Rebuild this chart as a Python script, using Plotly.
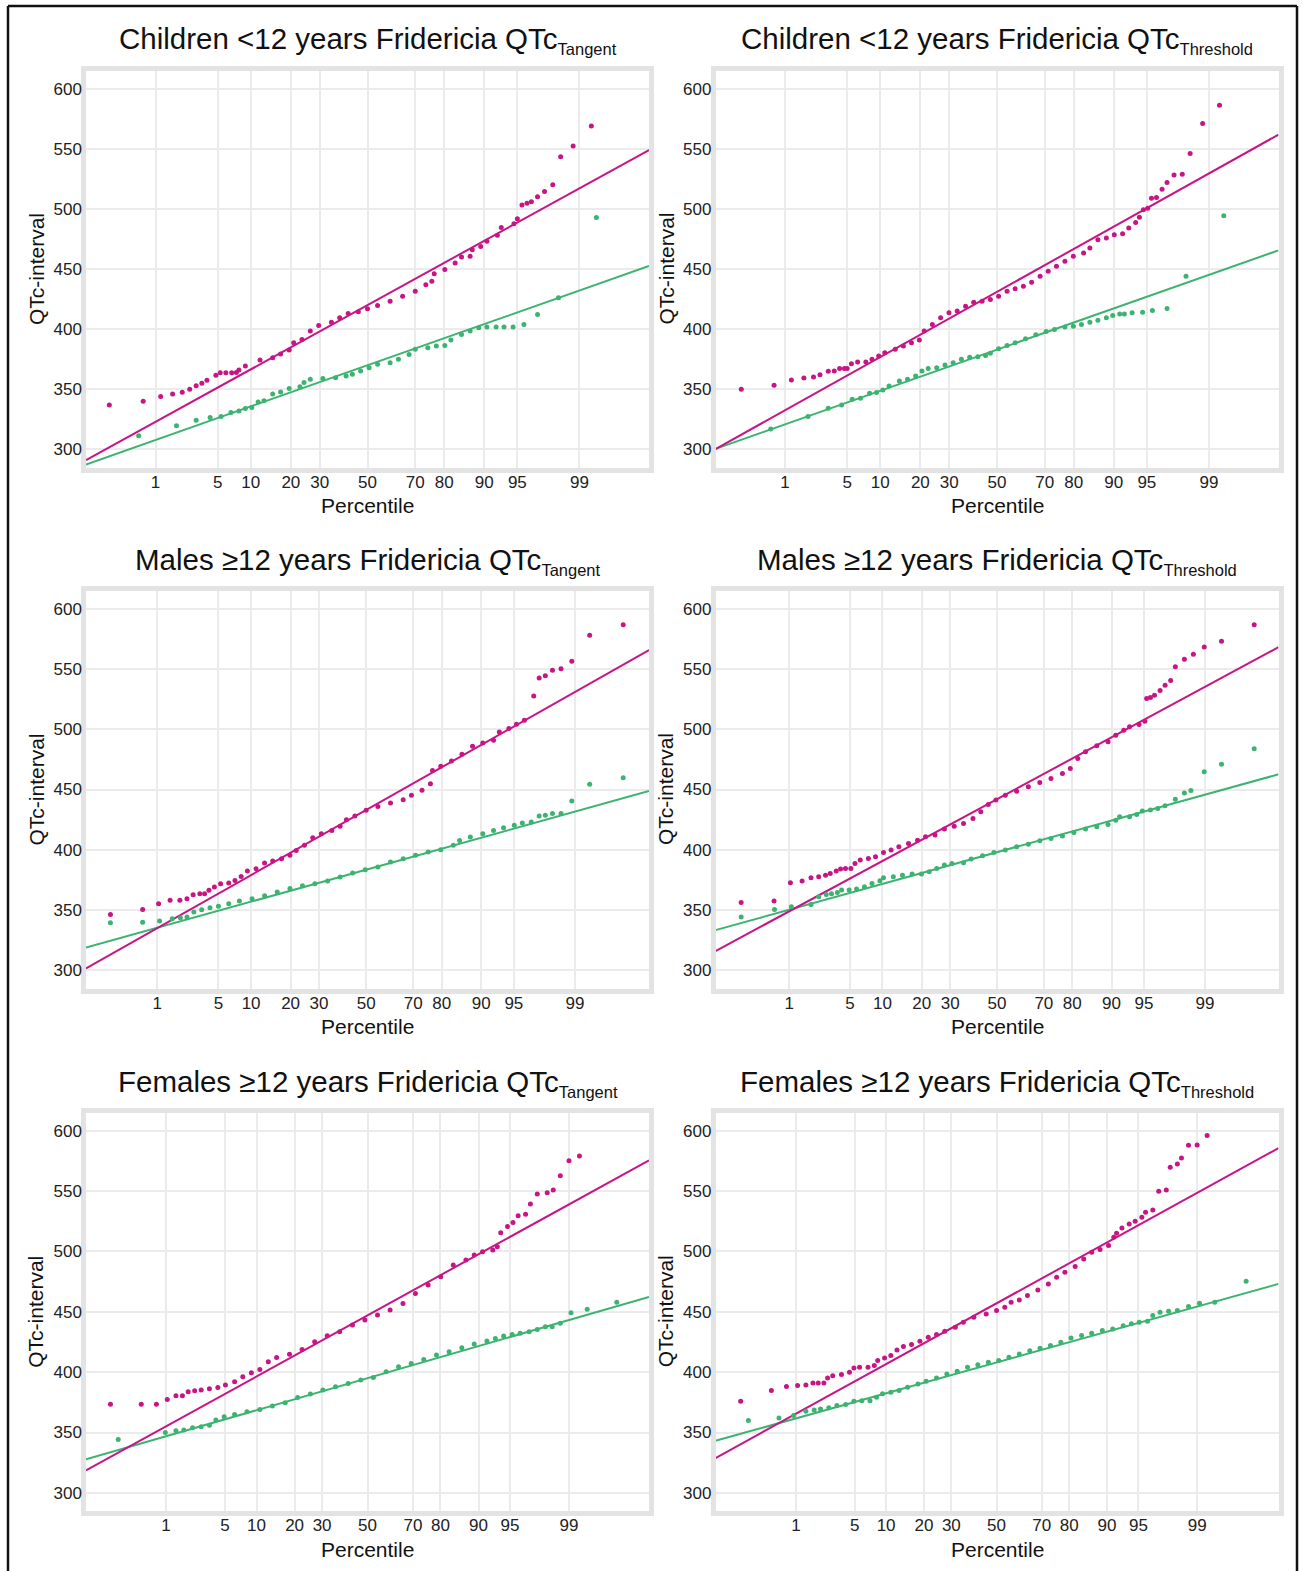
import plotly.graph_objects as go
from statistics import NormalDist

W, H = 1303, 1571
ND = NormalDist()

# ---------------- data (percentile, QTc ms) ----------------
TICK_PCT = [1, 5, 10, 20, 30, 50, 70, 80, 90, 95, 99]
Y_TICKS = [300, 350, 400, 450, 500, 550, 600]

# Children <12 years, Tangent
ch_tan_mag_pct = [0.23, 0.69, 1.16, 1.62, 2.1, 2.55, 3.0, 3.45, 3.9, 4.8, 5.3, 6.0, 6.8, 7.5, 7.9, 9.0, 11.9, 14.9, 17.0, 19.5, 20.9, 23.6, 26.5, 29.6, 34.6, 38.0, 41.6, 46.0, 50.0, 54.4, 59.8, 65.0, 70.0, 73.9, 76.0, 76.8, 80.2, 83.2, 84.9, 87.0, 87.5, 89.3, 90.5, 92.3, 92.9, 94.6, 95.0, 95.5, 96.0, 96.4, 96.9, 97.4, 97.9, 98.3, 98.8, 99.3]
ch_tan_mag_qtc = [337, 340, 344, 346, 347.5, 350, 353, 355, 357.5, 361.6, 363.8, 363.8, 363.8, 364, 366, 369.4, 374.3, 376.3, 379.3, 382.6, 388.7, 391.5, 398.4, 403.1, 405.8, 409.4, 413, 414.4, 416.9, 419.6, 423.2, 427.4, 431.5, 437, 439.8, 446, 449.5, 455, 460, 460.5, 466, 468.8, 473, 478, 484.5, 487.6, 491.7, 503.3, 504.7, 506, 510, 514.4, 520, 543.4, 552.2, 568.8]
ch_tan_grn_pct = [0.6, 1.8, 3.0, 4.2, 5.4, 6.7, 7.9, 9.0, 10.2, 11.5, 12.8, 14.9, 17.0, 19.5, 22.9, 24.3, 26.5, 31.2, 36.3, 40.7, 43.4, 47.0, 50.7, 54.4, 59.8, 63.3, 67.6, 70.0, 74.6, 77.5, 80.2, 82.0, 84.9, 87.0, 88.9, 90.5, 92.1, 93.3, 94.5, 95.7, 96.9, 98.2, 99.4]
ch_tan_grn_qtc = [311.4, 319.7, 324.3, 326.6, 327.4, 330.7, 332, 334, 334.8, 339.5, 340.4, 346, 347.8, 350.6, 352.2, 355.6, 358.3, 358.9, 359.7, 361, 362.5, 365.2, 368, 370.8, 372.1, 374.9, 379, 383.2, 384.6, 386, 386.5, 391, 395.6, 398.4, 401.1, 401.7, 401.7, 401.7, 401.7, 403.9, 412.2, 426, 492.8]

# Children <12 years, Threshold
ch_thr_mag_pct = [0.25, 0.72, 1.2, 1.7, 2.2, 2.6, 3.2, 3.7, 4.2, 4.7, 5.0, 5.5, 6.3, 7.5, 8.5, 9.7, 10.9, 13.2, 15.2, 17.4, 19.7, 21.2, 23.9, 26.8, 29.9, 33.1, 36.5, 39.9, 43.5, 47.1, 50.7, 54.4, 57.9, 61.4, 64.8, 68.2, 71.3, 74.3, 77.2, 79.9, 82.9, 84.6, 86.6, 88.5, 90.1, 91.6, 92.6, 93.6, 94.1, 94.6, 95.1, 95.5, 96.0, 96.5, 96.9, 97.4, 97.9, 98.3, 98.8, 99.27]
ch_thr_mag_qtc = [350, 353.3, 357.8, 359.4, 360.3, 362.2, 365, 365.2, 367.3, 367.3, 367.3, 371.3, 372.7, 372.7, 374.9, 377.7, 380.4, 383.2, 386, 388.7, 391, 398.4, 403.9, 409.4, 413.6, 415, 419.1, 422.4, 423.2, 424.6, 427.4, 431.5, 433.5, 435.7, 439, 444, 448.1, 452.2, 456.4, 460.5, 463.3, 467.4, 474.3, 475.7, 478.5, 479.3, 484, 488.7, 493, 499.2, 500.6, 508.9, 509.4, 516.3, 521.8, 528.2, 528.7, 546.1, 571, 586.2]
ch_thr_grn_pct = [0.65, 1.9, 3.2, 4.4, 5.6, 6.7, 8.1, 9.3, 10.5, 11.8, 14.2, 16.3, 18.6, 20.5, 22.5, 25.4, 28.4, 31.5, 34.8, 38.2, 41.7, 45.0, 47.1, 50.7, 54.4, 57.9, 62.3, 66.5, 70.5, 73.6, 77.2, 79.9, 82.3, 84.6, 86.6, 88.5, 89.8, 91.1, 91.9, 93.1, 94.5, 95.6, 96.9, 98.1, 99.36]
ch_thr_grn_qtc = [316.9, 327.4, 334.3, 337, 341.8, 342.6, 346.7, 347.3, 349.5, 352.8, 356.9, 358.3, 361.1, 365.2, 367.2, 368, 370.2, 372.1, 374.9, 376.6, 377.1, 378.2, 379.9, 383.7, 386.5, 388.7, 392, 395.3, 398.1, 399.8, 401.7, 402.5, 403.9, 405.8, 407.5, 409.4, 411.4, 412.5, 412.5, 413.6, 414.1, 415.5, 417.2, 444, 494.2]

# Males >=12 years, Tangent
m_tan_mag_pct = [0.22, 0.64, 1.04, 1.45, 1.9, 2.3, 2.7, 3.2, 3.6, 4.0, 4.55, 5.25, 6.3, 7.2, 8.2, 9.3, 11.0, 12.9, 14.9, 17.3, 19.8, 21.8, 24.6, 27.6, 30.9, 35.1, 38.6, 41.3, 45.0, 50.0, 55.2, 60.7, 66.0, 69.3, 73.3, 76.3, 77.0, 79.7, 82.9, 85.7, 88.2, 90.3, 92.2, 93.1, 94.4, 95.3, 96.1, 96.9, 97.3, 97.7, 98.1, 98.5, 98.9, 99.36, 99.79]
m_tan_mag_qtc = [346.4, 350.6, 355.3, 358.1, 358.1, 359.5, 362.8, 363.6, 363.6, 366.4, 369.1, 371.9, 372.4, 374.6, 377.9, 382.4, 384.3, 389, 390.7, 392.6, 395.4, 399.5, 403.7, 410, 413.4, 416.1, 419.5, 425, 428, 432.7, 436, 438.8, 441.6, 445.2, 449.3, 454.8, 465.8, 469.2, 473.6, 479.2, 485.8, 488.6, 490.8, 497.7, 500.5, 504.1, 507.4, 527.6, 542.5, 544.4, 548.8, 550.2, 556.3, 577.9, 586.7]
m_tan_grn_pct = [0.22, 0.64, 1.07, 1.54, 1.93, 2.3, 2.75, 3.35, 4.1, 5.0, 6.3, 7.9, 10.2, 12.9, 16.1, 19.8, 23.9, 28.4, 33.4, 38.6, 44.0, 49.6, 55.2, 60.7, 66.0, 70.9, 75.5, 79.7, 83.4, 85.1, 87.7, 90.3, 92.2, 93.7, 95.05, 95.9, 96.7, 97.3, 97.7, 98.1, 98.5, 98.9, 99.36, 99.79]
m_tan_grn_qtc = [339.5, 340, 340.9, 342.8, 343.6, 344.2, 348.4, 350.3, 352, 353.1, 355.3, 357.5, 359.5, 362, 365, 368, 370.2, 371.9, 374.1, 377.4, 380.7, 383.5, 385.7, 389.9, 392.6, 395.4, 398.2, 400.1, 403.7, 407.8, 410.6, 413.4, 416.1, 418.3, 420.3, 422.2, 423, 428, 428.6, 430, 430, 440.5, 454.3, 459.8]

# Males >=12 years, Threshold
m_thr_mag_pct = [0.21, 0.63, 1.04, 1.46, 1.87, 2.3, 2.75, 3.1, 3.6, 4.0, 4.5, 5.1, 5.6, 6.3, 7.5, 8.7, 10.2, 11.8, 13.6, 16.1, 18.7, 21.2, 24.4, 27.8, 31.6, 35.4, 39.4, 42.8, 46.1, 49.5, 53.7, 58.7, 63.7, 68.4, 72.7, 76.8, 79.4, 81.7, 83.9, 86.8, 89.3, 90.8, 92.2, 93.1, 94.4, 95.1, 95.3, 95.7, 96.1, 96.6, 97.0, 97.4, 97.7, 98.2, 98.6, 98.98, 99.4, 99.8]
m_thr_mag_qtc = [356.4, 357.5, 372.7, 374.1, 376.8, 377.7, 379, 380.4, 382.4, 384, 384.6, 384.6, 388.7, 391.5, 392.8, 394.2, 397.8, 399.8, 402.5, 405.3, 408, 410.8, 412.2, 417.2, 419.6, 421.9, 426, 431.5, 437.6, 441.2, 445.3, 448.6, 452.2, 455.8, 459.1, 463.3, 467.4, 475.7, 481.2, 486.2, 489.5, 495, 499.2, 502, 503.9, 506.6, 525.4, 526.3, 528.2, 532, 536.5, 540.3, 551.7, 558, 562.2, 568.2, 572.9, 586.7]
m_thr_grn_pct = [0.21, 0.64, 1.07, 1.87, 2.3, 2.8, 3.2, 3.7, 4.1, 4.9, 5.8, 6.9, 8.1, 9.5, 10.2, 12.3, 14.5, 17.1, 19.9, 22.4, 25.0, 27.8, 30.7, 35.4, 38.6, 43.6, 48.6, 53.7, 58.7, 63.7, 68.4, 72.7, 76.8, 80.5, 83.9, 86.8, 89.3, 90.8, 91.5, 93.1, 94.1, 94.8, 95.7, 96.4, 97.0, 97.7, 98.2, 98.5, 98.98, 99.4, 99.8]
m_thr_grn_qtc = [344.2, 350.6, 352.8, 354.7, 361.1, 363, 363.6, 364.7, 366.6, 366.6, 367.4, 369.4, 372.1, 374.3, 376.8, 377.7, 379, 379.9, 379.9, 381.8, 384.6, 387.3, 388.7, 389.3, 392.3, 395, 397.8, 399.8, 402.5, 404.7, 407.5, 409.4, 411.4, 414.4, 417.2, 419.1, 421, 424.6, 427.4, 427.4, 429.3, 432.1, 432.9, 434.3, 436.5, 442, 447, 449.2, 464.7, 471, 483.7]

# Females >=12 years, Tangent
f_tan_mag_pct = [0.15, 0.45, 0.74, 1.04, 1.35, 1.63, 1.92, 2.3, 2.74, 3.4, 4.2, 5.05, 6.25, 7.5, 9.0, 10.7, 12.6, 14.7, 18.4, 22.5, 27.1, 32.1, 37.4, 43.1, 48.8, 54.6, 60.3, 65.9, 71.0, 75.8, 80.1, 83.9, 87.2, 89.1, 90.8, 92.6, 93.3, 93.8, 94.7, 95.35, 95.9, 96.6, 97.0, 97.5, 98.1, 98.4, 98.7, 99.0, 99.28]
f_tan_mag_qtc = [373.5, 373.5, 373.5, 377.4, 380.4, 380.4, 383.7, 384.6, 385.1, 386.2, 387.3, 389.3, 392, 396.2, 399.5, 402.2, 408.6, 412.2, 414.9, 418.8, 425.2, 430.1, 433.5, 439, 443.1, 447.3, 451.4, 456.9, 465.2, 472.1, 479, 488.7, 492.8, 497, 499.7, 501.1, 503.9, 515.5, 520.5, 524, 529.6, 530.7, 539.2, 547.5, 548.6, 550.8, 562.7, 575.1, 579]
f_tan_grn_pct = [0.2, 0.98, 1.35, 1.7, 2.17, 2.74, 3.4, 4.0, 4.9, 6.25, 8.2, 10.7, 13.6, 17.1, 21.0, 25.5, 30.3, 35.6, 41.2, 46.9, 52.7, 58.5, 64.0, 69.3, 74.2, 78.7, 82.7, 86.2, 89.1, 91.6, 93.0, 94.2, 95.25, 96.1, 96.9, 97.5, 98.0, 98.35, 98.7, 99.06, 99.44, 99.8]
f_tan_grn_qtc = [344.2, 350, 351.4, 352, 353.9, 354.7, 356.1, 360.3, 363, 364.9, 367.2, 369.1, 371.9, 374.6, 379, 381.8, 385.1, 387.9, 390.6, 393.4, 395.6, 400.3, 404.5, 407.2, 410.5, 414.1, 416.9, 420.2, 423.2, 425.7, 427.9, 429.9, 431.2, 432.1, 433.5, 435.4, 437.6, 437.6, 440.4, 449.2, 452, 457.8]

# Females >=12 years, Threshold
f_thr_mag_pct = [0.15, 0.45, 0.74, 1.05, 1.35, 1.66, 1.93, 2.26, 2.5, 2.87, 3.6, 4.4, 4.9, 5.6, 6.8, 7.8, 8.4, 9.7, 11.0, 12.4, 14.0, 16.2, 18.7, 21.4, 24.3, 27.4, 31.6, 35.0, 39.6, 45.2, 50.0, 53.8, 56.7, 60.4, 64.0, 68.4, 72.6, 75.7, 78.6, 81.9, 84.4, 86.5, 88.5, 90.3, 91.3, 91.8, 92.7, 93.8, 94.6, 95.4, 95.8, 96.5, 97.0, 97.55, 97.8, 98.2, 98.4, 98.7, 99.0, 99.27]
f_thr_mag_qtc = [375.9, 384.7, 388, 388.9, 389.4, 391.1, 391.1, 391.1, 395.2, 397.1, 398, 399.9, 403.5, 404, 404, 405.4, 409.6, 411.8, 413.7, 418.4, 421.2, 422.8, 425.6, 428.9, 431.1, 433.8, 437.2, 441.3, 445.4, 448.2, 451, 453.7, 457.9, 459.8, 463.4, 468.1, 473, 478.6, 482.7, 487.4, 493.7, 499.3, 501.5, 504.8, 511.7, 515, 519.4, 522.7, 524.9, 528.2, 532.4, 534.3, 549.8, 550.9, 569.6, 572.4, 577.4, 587.9, 588.1, 595.9]
f_thr_grn_pct = [0.2, 0.58, 0.93, 1.35, 1.72, 2.06, 2.58, 3.2, 4.0, 4.9, 5.9, 7.1, 8.2, 9.3, 11.0, 12.9, 15.1, 18.1, 20.7, 24.3, 28.2, 32.4, 36.8, 41.4, 46.2, 51.0, 55.7, 60.4, 65.0, 69.3, 73.4, 77.2, 80.6, 83.8, 86.5, 89.0, 91.1, 92.9, 94.1, 95.1, 96.0, 96.5, 97.1, 97.7, 98.2, 98.7, 99.07, 99.43, 99.81]
f_thr_grn_qtc = [359.9, 362.1, 364, 367.6, 368.7, 369.5, 370.4, 372.3, 373.1, 375.9, 376.4, 376.4, 379.2, 382, 383.3, 384.7, 387.5, 390.2, 392.4, 395.2, 398.5, 400.7, 404, 406.2, 408.2, 409.6, 412.3, 415.1, 417.8, 419.8, 422, 424.7, 428.3, 430.3, 432.2, 434.4, 435.8, 438.5, 440, 441.3, 442.1, 446.8, 449.6, 450.4, 451, 454.3, 457, 457.9, 475.2]

# fitted normal reference lines: (mean, SD) per panel
mag_mean = [420, 431, 433, 442, 447, 457]
mag_sd = [41.7, 42.3, 42.1, 40.0, 39.5, 39.3]
grn_mean = [370, 383, 383.5, 398, 395, 408]
grn_sd = [26.7, 26.7, 20.7, 20.5, 20.7, 19.9]

# x-axis extent (normal quantile) per panel
x_lo = [-3.09, -3.09, -3.12, -3.15, -3.25, -3.26]
x_hi = [3.09, 3.09, 3.15, 3.15, 3.25, 3.27]

SUB = "<sub><span style='font-size:16.5px'>%s</span></sub>"
titles = [
    "Children &lt;12 years Fridericia QTc" + SUB % "Tangent",
    "Children &lt;12 years Fridericia QTc" + SUB % "Threshold",
    "Males ≥12 years Fridericia QTc" + SUB % "Tangent",
    "Males ≥12 years Fridericia QTc" + SUB % "Threshold",
    "Females ≥12 years Fridericia QTc" + SUB % "Tangent",
    "Females ≥12 years Fridericia QTc" + SUB % "Threshold",
]

series = [
    (ch_tan_mag_pct, ch_tan_mag_qtc, ch_tan_grn_pct, ch_tan_grn_qtc),
    (ch_thr_mag_pct, ch_thr_mag_qtc, ch_thr_grn_pct, ch_thr_grn_qtc),
    (m_tan_mag_pct, m_tan_mag_qtc, m_tan_grn_pct, m_tan_grn_qtc),
    (m_thr_mag_pct, m_thr_mag_qtc, m_thr_grn_pct, m_thr_grn_qtc),
    (f_tan_mag_pct, f_tan_mag_qtc, f_tan_grn_pct, f_tan_grn_qtc),
    (f_thr_mag_pct, f_thr_mag_qtc, f_thr_grn_pct, f_thr_grn_qtc),
]

# ---------------- styling / geometry ----------------
MAG = "#c71585"
GRN = "#3cb371"
FONT = "Liberation Sans, Arial, sans-serif"
COL_X = [(86, 649), (715.5, 1278.5)]
ROW_Y = [(70.5, 467.5), (590.5, 988.5), (1112.5, 1511)]


def qz(p):
    return ND.inv_cdf(p / 100.0)


def fx(px):
    return px / W


def fy(py):
    return 1 - py / H


fig = go.Figure()
annotations = []
layout_axes = {}

for i in range(6):
    r, c = divmod(i, 2)
    k = "" if i == 0 else str(i + 1)
    xa, ya = "x" + k, "y" + k
    x0, x1 = COL_X[c]
    y0, y1 = ROW_Y[r]
    mp, mv, gp, gv = series[i]

    xs = [x_lo[i], x_hi[i]]
    fig.add_trace(go.Scatter(x=xs, y=[grn_mean[i] + grn_sd[i] * v for v in xs], mode="lines",
                             line=dict(color=GRN, width=2), xaxis=xa, yaxis=ya, showlegend=False,
                             hoverinfo="skip"))
    fig.add_trace(go.Scatter(x=xs, y=[mag_mean[i] + mag_sd[i] * v for v in xs], mode="lines",
                             line=dict(color=MAG, width=2), xaxis=xa, yaxis=ya, showlegend=False,
                             hoverinfo="skip"))
    fig.add_trace(go.Scatter(x=[qz(p) for p in gp], y=gv, mode="markers",
                             marker=dict(color=GRN, size=5), xaxis=xa, yaxis=ya, showlegend=False))
    fig.add_trace(go.Scatter(x=[qz(p) for p in mp], y=mv, mode="markers",
                             marker=dict(color=MAG, size=5), xaxis=xa, yaxis=ya, showlegend=False))

    common = dict(showgrid=True, gridcolor="#ebebeb", gridwidth=2, zeroline=False,
                  showline=True, mirror=True, linecolor="#e3e3e3", linewidth=4.5,
                  ticks="", tickfont=dict(size=17, color="#222222", family=FONT),
                  fixedrange=True)
    layout_axes["xaxis" + k] = dict(domain=[fx(x0), fx(x1)], range=xs, anchor=ya,
                                    tickvals=[qz(p) for p in TICK_PCT],
                                    ticktext=[str(p) for p in TICK_PCT],
                                    ticklabelstandoff=-5, **common)
    layout_axes["yaxis" + k] = dict(domain=[fy(y1), fy(y0)], range=[285, 615], anchor=xa,
                                    tickvals=Y_TICKS, ticktext=[str(v) for v in Y_TICKS],
                                    ticklabelstandoff=-4, **common)

    cx = (x0 + x1) / 2
    annotations.append(dict(text=titles[i], x=fx(cx), y=fy(y0 - 30), xref="paper", yref="paper",
                            xanchor="center", yanchor="middle", showarrow=False,
                            font=dict(size=29.5, color="#111111", family=FONT)))
    annotations.append(dict(text="Percentile", x=fx(cx), y=fy(y1 + 38), xref="paper", yref="paper",
                            xanchor="center", yanchor="middle", showarrow=False,
                            font=dict(size=21, color="#111111", family=FONT)))
    annotations.append(dict(text="QTc-interval", x=fx(x0 - 50), y=fy((y0 + y1) / 2), xref="paper",
                            yref="paper", xanchor="center", yanchor="middle", textangle=-90,
                            showarrow=False, font=dict(size=21, color="#111111", family=FONT)))

shapes = [
    dict(type="line", xref="paper", yref="paper", x0=fx(8), x1=fx(1297), y0=fy(6), y1=fy(6),
         line=dict(color="#111111", width=2.5)),
    dict(type="line", xref="paper", yref="paper", x0=fx(8), x1=fx(8), y0=fy(6), y1=0,
         line=dict(color="#111111", width=2.5)),
    dict(type="line", xref="paper", yref="paper", x0=fx(1297), x1=fx(1297), y0=fy(6), y1=0,
         line=dict(color="#111111", width=2.5)),
]

fig.update_layout(width=W, height=H, margin=dict(l=0, r=0, t=0, b=0),
                  paper_bgcolor="white", plot_bgcolor="white",
                  font=dict(family=FONT, color="#111111"),
                  annotations=annotations, shapes=shapes, **layout_axes)

fig.write_html("out.html", config={"displayModeBar": False},
               post_script="document.body.style.margin='0px';")
